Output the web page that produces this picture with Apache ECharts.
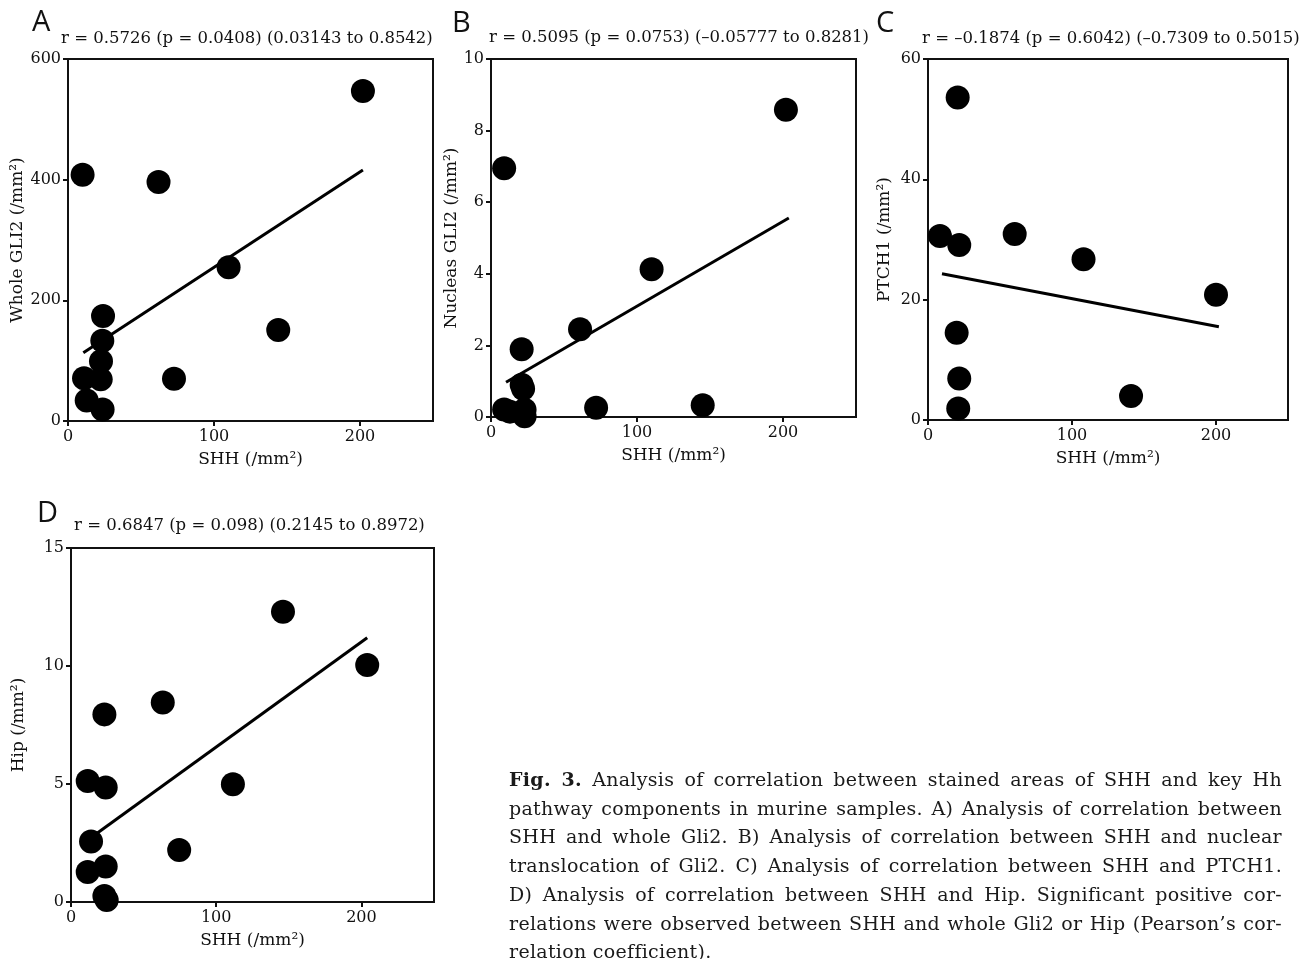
<!DOCTYPE html>
<html>
<head>
<meta charset="utf-8">
<script src="https://cdn.jsdelivr.net/npm/echarts@6/dist/echarts.min.js"></script>
<style>
  body { margin: 0; background: #fff; overflow: hidden; }
  #chart { position: absolute; left: 0; top: 0; width: 1313px; height: 959px; }
  #caption {
    position: absolute; left: 509px; top: 765px; width: 773px;
    font-family: 'DejaVu Serif'; font-size: 19px; line-height: 28.7px;
    letter-spacing: 0.3px; color: #1a1a1a;
  }
  #caption div { text-align: justify; text-align-last: justify; }
  #caption div.last { text-align-last: left; }
</style>
</head>
<body>
<div id="chart"></div>
<div id="caption">
  <div><b>Fig. 3.</b> Analysis of correlation between stained areas of SHH and key Hh</div>
  <div>pathway components in murine samples. A) Analysis of correlation between</div>
  <div>SHH and whole Gli2. B) Analysis of correlation between SHH and nuclear</div>
  <div>translocation of Gli2. C) Analysis of correlation between SHH and PTCH1.</div>
  <div>D) Analysis of correlation between SHH and Hip. Significant positive cor-</div>
  <div>relations were observed between SHH and whole Gli2 or Hip (Pearson’s cor-</div>
  <div class="last">relation coefficient).</div>
</div>
<script>
// panel A: SHH vs whole GLI2
const shhA = [10, 62, 202, 110, 24, 144, 23.5, 22.6, 11, 22.4, 72.6, 12.8, 23.7]
const gli2Whole = [408, 396, 547, 255, 174, 151, 133, 99, 71, 69, 70, 34, 19]
const fitA = [[10.5, 113], [202, 416]]

// panel B: SHH vs nuclear GLI2
const shhB = [9, 21, 61, 22, 9, 23, 23, 72, 110, 202, 145, 13, 21]
const gli2Nuc = [6.95, 1.89, 2.45, 0.79, 0.21, 0.2, 0.02, 0.26, 4.13, 8.58, 0.33, 0.15, 0.9]
const fitB = [[10.3, 0.97], [204, 5.56]]

// panel C: SHH vs PTCH1
const shhC = [20.6, 8.3, 21.7, 60.2, 108, 200, 19.9, 21.7, 21, 141]
const ptch1 = [53.6, 30.6, 29.1, 30.9, 26.7, 20.8, 14.5, 6.9, 1.9, 4.0]
const fitC = [[9.7, 24.3], [202, 15.5]]

// panel D: SHH vs Hip
const shhD = [23, 63.2, 11.5, 23.9, 111.5, 13.8, 74.5, 11.5, 23.9, 24.6, 146, 204, 23]
const hip = [7.95, 8.45, 5.13, 4.85, 4.99, 2.56, 2.2, 1.27, 1.5, 0.08, 12.3, 10.04, 0.25]
const fitD = [[17.7, 2.9], [204, 11.2]]

const xTicks = [0, 100, 200]
const letters = ['A', 'B', 'C', 'D']
const stats = [
  'r = 0.5726 (p = 0.0408) (0.03143 to 0.8542)',
  'r = 0.5095 (p = 0.0753) (–0.05777 to 0.8281)',
  'r = –0.1874 (p = 0.6042) (–0.7309 to 0.5015)',
  'r = 0.6847 (p = 0.098) (0.2145 to 0.8972)'
]
const yNames = ['Whole GLI2 (/mm²)', 'Nucleas GLI2 (/mm²)', 'PTCH1 (/mm²)', 'Hip (/mm²)']
const yMax = [600, 10, 60, 15]
const yStep = [200, 2, 20, 5]

const panels = [
  { x: shhA, y: gli2Whole, fit: fitA },
  { x: shhB, y: gli2Nuc, fit: fitB },
  { x: shhC, y: ptch1, fit: fitC },
  { x: shhD, y: hip, fit: fitD }
]

// layout of each panel (px)
const grids = [
  { left: 68, top: 59, width: 365, height: 362 },
  { left: 491, top: 59, width: 365, height: 358 },
  { left: 928, top: 59, width: 360, height: 361 },
  { left: 71, top: 548, width: 363, height: 354 }
]
const letterPos = [[32, 8], [452, 9], [876, 9], [37, 499]]
const statPos = [[61, 30], [489, 29], [922, 30], [74, 517]]
const yNameGap = [39, 30, 35, 44]

const serif = 'DejaVu Serif'
const ink = '#111'

const chart = echarts.init(document.getElementById('chart'))

const title = []
letters.forEach((l, i) => {
  title.push({
    text: l, left: letterPos[i][0], top: letterPos[i][1], padding: 0,
    textStyle: { fontFamily: 'Open Sans', fontSize: 29, fontWeight: 'normal', color: ink }
  })
  title.push({
    text: stats[i], left: statPos[i][0], top: statPos[i][1], padding: 0,
    textStyle: { fontFamily: serif, fontSize: 16.5, fontWeight: 'normal', color: ink }
  })
})

const axisCommon = {
  type: 'value',
  axisLine: { show: true, onZero: false, lineStyle: { color: ink, width: 2 } },
  axisTick: { show: true, length: 5, lineStyle: { color: ink, width: 2 } },
  splitLine: { show: false },
  nameLocation: 'middle',
  nameTextStyle: { fontFamily: serif, fontSize: 17, color: ink }
}

const xAxis = grids.map((g, i) => ({
  ...axisCommon,
  gridIndex: i,
  min: 0, max: 250, interval: 100,
  name: 'SHH (/mm²)',
  nameGap: 30,
  axisTick: { ...axisCommon.axisTick, customValues: xTicks },
  axisLabel: { customValues: xTicks, color: ink, fontFamily: serif, fontSize: 16, margin: 8 }
}))

const yAxis = grids.map((g, i) => ({
  ...axisCommon,
  gridIndex: i,
  min: 0, max: yMax[i], interval: yStep[i],
  name: yNames[i],
  nameGap: yNameGap[i],
  axisLabel: { color: ink, fontFamily: serif, fontSize: 16, margin: 7 }
}))

const series = []
panels.forEach((p, i) => {
  series.push({
    type: 'scatter', xAxisIndex: i, yAxisIndex: i,
    symbolSize: 24, itemStyle: { color: '#000', opacity: 1 },
    clip: false,
    data: p.x.map((v, k) => [v, p.y[k]])
  })
  series.push({
    type: 'line', xAxisIndex: i, yAxisIndex: i,
    showSymbol: false, symbol: 'none',
    lineStyle: { color: '#000', width: 3 },
    data: p.fit
  })
})

chart.setOption({
  backgroundColor: '#fff',
  animation: false,
  title,
  grid: grids.map(g => ({ ...g, show: true, borderColor: ink, borderWidth: 2 })),
  xAxis,
  yAxis,
  series
})
</script>
</body>
</html>
